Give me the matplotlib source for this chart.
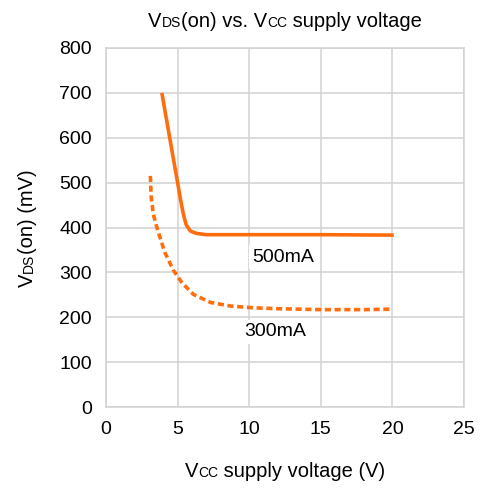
import numpy as np
import matplotlib
matplotlib.use("Agg")
import matplotlib.pyplot as plt
from matplotlib.transforms import IdentityTransform

plt.rcParams['font.family'] = ['Liberation Sans', 'DejaVu Sans']

# data
v_500 = [3.9, 4.3, 4.7, 5.0, 5.2, 5.4, 5.6, 5.9, 6.3, 7.0, 8.0, 10.0, 15.0, 20.1]
vds_500 = [700, 627, 554, 500, 463, 430, 406, 392, 387, 384, 384, 384, 384, 383]
v_300 = [3.1, 3.15, 3.3, 3.6, 4.1, 4.7, 5.3, 6.1, 7.3, 8.7, 10.3, 12.0, 15.0, 18.0, 20.0]
vds_300 = [515, 470, 430, 395, 345, 305, 277, 251, 233, 225, 221, 219, 217, 217, 218]
x_ticks = [0, 5, 10, 15, 20, 25]
y_ticks = [0, 100, 200, 300, 400, 500, 600, 700, 800]

orange = '#ff6d0d'
grid_c = '#d2d2d2'
W, H = 481, 488


def rich_text(fig, x, y, parts, rotation=0):
    # parts: list of (text, fontsize); x, y: pixel position of the baseline centre
    renderer = fig.canvas.get_renderer()
    texts = []
    for s, size in parts:
        t = fig.text(0, 0, s, fontsize=size, rotation=rotation, rotation_mode='anchor',
                     ha='left', va='baseline', transform=IdentityTransform())
        texts.append(t)
    lengths = []
    for t in texts:
        bb = t.get_window_extent(renderer)
        lengths.append(bb.height if rotation else bb.width)
    pos = -sum(lengths) / 2
    for t, L in zip(texts, lengths):
        if rotation:
            t.set_position((x, y + pos))
        else:
            t.set_position((x + pos, y))
        pos += L


fig = plt.figure(figsize=(W / 100, H / 100), dpi=100)
ax = fig.add_axes([106 / W, 1 - 407 / H, (464 - 106) / W, (407 - 48) / H])

ax.plot(v_500, vds_500, color=orange, lw=2.6, solid_capstyle='butt', solid_joinstyle='round')
ax.plot(v_300, vds_300, color=orange, lw=2.6, linestyle=(0, (1.7, 1.0)))

ax.set_xlim(0, 25)
ax.set_ylim(0, 800)
ax.set_xticks(x_ticks)
ax.set_yticks(y_ticks)
ax.tick_params(length=0, pad=10, labelsize=14)
ax.grid(True, color=grid_c, lw=1.1)
ax.set_axisbelow(True)
for sp in ax.spines.values():
    sp.set_color(grid_c)
    sp.set_linewidth(1.1)

ax.text(12.36, 334, "500mA", fontsize=14, ha='center', va='center',
        bbox=dict(facecolor='white', edgecolor='none', pad=2.5))
ax.text(11.8, 168, "300mA", fontsize=14, ha='center', va='center',
        bbox=dict(facecolor='white', edgecolor='none', pad=2.5))

rich_text(fig, 285, H - 27, [("V", 14.5), ("DS", 10), ("(on) vs. V", 14.5), ("CC", 10), (" supply voltage", 14.5)])
rich_text(fig, 285, H - 477, [("V", 14.5), ("CC", 10), (" supply voltage (V)", 14.5)])
rich_text(fig, 33, H - 228, [("V", 14.5), ("DS", 10), ("(on) (mV)", 14.5)], rotation=90)

fig.savefig("out.png", dpi=100)
